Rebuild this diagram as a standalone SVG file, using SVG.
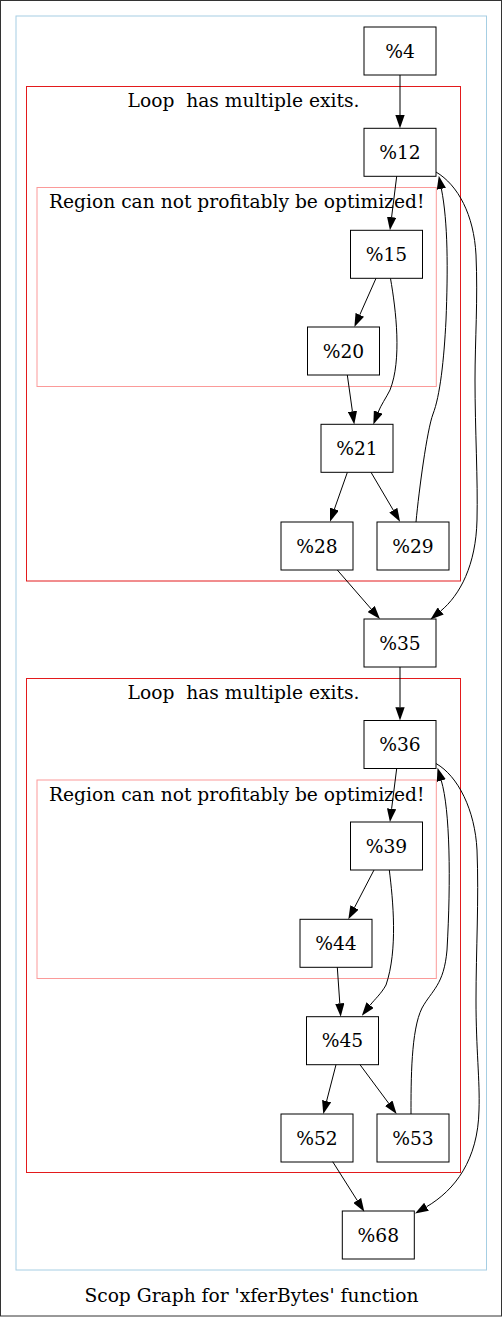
<svg xmlns="http://www.w3.org/2000/svg" width="503" height="1317" viewBox="0 0 503 1317">
<style>
.node rect{fill:none;stroke:#000;stroke-width:1}
.node text,.lbl{font-family:"DejaVu Serif","Liberation Serif",serif;font-size:18.67px;fill:#000;text-anchor:middle;white-space:pre}
.edges path{fill:none;stroke:#000;stroke-width:1;marker-end:url(#ah)}
.c-blue{fill:none;stroke:#a6cee3}
.c-red{fill:none;stroke:#e31a1c}
.c-pink{fill:none;stroke:#fb9a99}
</style>
<defs>
<marker id="ah" viewBox="0 0 13.33 9.33" refX="0" refY="4.67" markerWidth="13.33" markerHeight="9.33" markerUnits="userSpaceOnUse" orient="auto">
<path d="M0,0 L13.33,4.67 L0,9.33 z" fill="#000"/>
</marker>
</defs>
<rect x="0" y="0" width="503" height="1317" fill="#fff"/>
<rect x="0.5" y="0.5" width="501" height="1315.5" fill="none" stroke="#333"/>
<g id="clusters">
<rect class="c-blue" x="16" y="16" width="470.5" height="1254"/>
<rect class="c-red" x="26.5" y="86.5" width="434" height="494.5"/>
<text class="lbl" x="243.5" y="107" xml:space="preserve">Loop  has multiple exits.</text>
<rect class="c-pink" x="37" y="187.5" width="399.3" height="199"/>
<text class="lbl" x="236.7" y="208.3">Region can not profitably be optimized!</text>
<rect class="c-red" x="26.5" y="678.5" width="434" height="494"/>
<text class="lbl" x="243.5" y="699" xml:space="preserve">Loop  has multiple exits.</text>
<rect class="c-pink" x="37" y="780" width="399.3" height="198.5"/>
<text class="lbl" x="236.7" y="801">Region can not profitably be optimized!</text>
</g>
<g class="edges" id="edges">
<path d="M400,75 L400,115"/>
<path d="M396.7,176.3 L391.6,217.1"/>
<path d="M376,278.3 L359.8,314.8"/>
<path d="M390.5,278.5 C396,310 402,360 390,390 C386,398 381,405 378.2,412.1"/>
<path d="M347.3,375 L352.4,411.3"/>
<path d="M347.3,472.5 L334.4,509.1"/>
<path d="M371,472.3 L393.3,510.2"/>
<path d="M416,522 C419,490 427,430 433,414 C440,396 444,360 446,320 C448,270 448,222 441.4,188.9"/>
<path d="M436,172 C458,185 474,215 476,255 C478,300 475,340 475,380 C475,430 478,480 477,520 C476,565 460,595 440.7,611"/>
<path d="M337.3,570 L371.2,609"/>
<path d="M400,667 L400,707.2"/>
<path d="M396.7,768.5 L391.6,808.8"/>
<path d="M374,870 L354.5,907.5"/>
<path d="M389.3,870 C393,900 398,950 386,985 C381,994 375,999 370.1,1005.2"/>
<path d="M337.3,967.3 L339.8,1003.4"/>
<path d="M336,1064.7 L326.6,1101.1"/>
<path d="M360,1064.7 L388.7,1103.3"/>
<path d="M411,1114 C411,1080 411,1030 422,1008 C432,990 444,985 447,950 C451,880 450,810 441.3,780.6"/>
<path d="M436,763.5 C458,776 475,810 477,850 C479,900 476,950 476,1000 C476,1050 480,1080 479,1110 C478,1160 455,1190 426.5,1206.8"/>
<path d="M332.7,1161.7 L357.2,1200.4"/>
</g>
<g id="n4" class="node"><rect x="364" y="27" width="72" height="48"/><text x="400" y="57.6">%4</text></g>
<g id="n12" class="node"><rect x="364" y="128.3" width="72" height="48"/><text x="400" y="158.9">%12</text></g>
<g id="n15" class="node"><rect x="350.5" y="230.3" width="72" height="48"/><text x="386.5" y="260.9">%15</text></g>
<g id="n20" class="node"><rect x="307.5" y="327" width="72" height="48"/><text x="343.5" y="357.6">%20</text></g>
<g id="n21" class="node"><rect x="321" y="424.3" width="72" height="48"/><text x="357" y="454.9">%21</text></g>
<g id="n28" class="node"><rect x="281" y="522" width="72" height="48"/><text x="317" y="552.6">%28</text></g>
<g id="n29" class="node"><rect x="377" y="522" width="72" height="48"/><text x="413" y="552.6">%29</text></g>
<g id="n35" class="node"><rect x="364" y="619" width="72" height="48"/><text x="400" y="649.6">%35</text></g>
<g id="n36" class="node"><rect x="364" y="720.5" width="72" height="48"/><text x="400" y="751.1">%36</text></g>
<g id="n39" class="node"><rect x="350.5" y="822" width="72" height="48"/><text x="386.5" y="852.6">%39</text></g>
<g id="n44" class="node"><rect x="300" y="919.3" width="72" height="48"/><text x="336" y="949.9">%44</text></g>
<g id="n45" class="node"><rect x="306.5" y="1016.7" width="72" height="48"/><text x="342.5" y="1047.3">%45</text></g>
<g id="n52" class="node"><rect x="281" y="1114" width="72" height="48"/><text x="317" y="1144.6">%52</text></g>
<g id="n53" class="node"><rect x="377" y="1114" width="72" height="48"/><text x="413" y="1144.6">%53</text></g>
<g id="n68" class="node"><rect x="342.3" y="1211" width="72" height="48"/><text x="378.3" y="1241.6">%68</text></g>
<text class="lbl" x="251.5" y="1301.5">Scop Graph for 'xferBytes' function</text>
</svg>
